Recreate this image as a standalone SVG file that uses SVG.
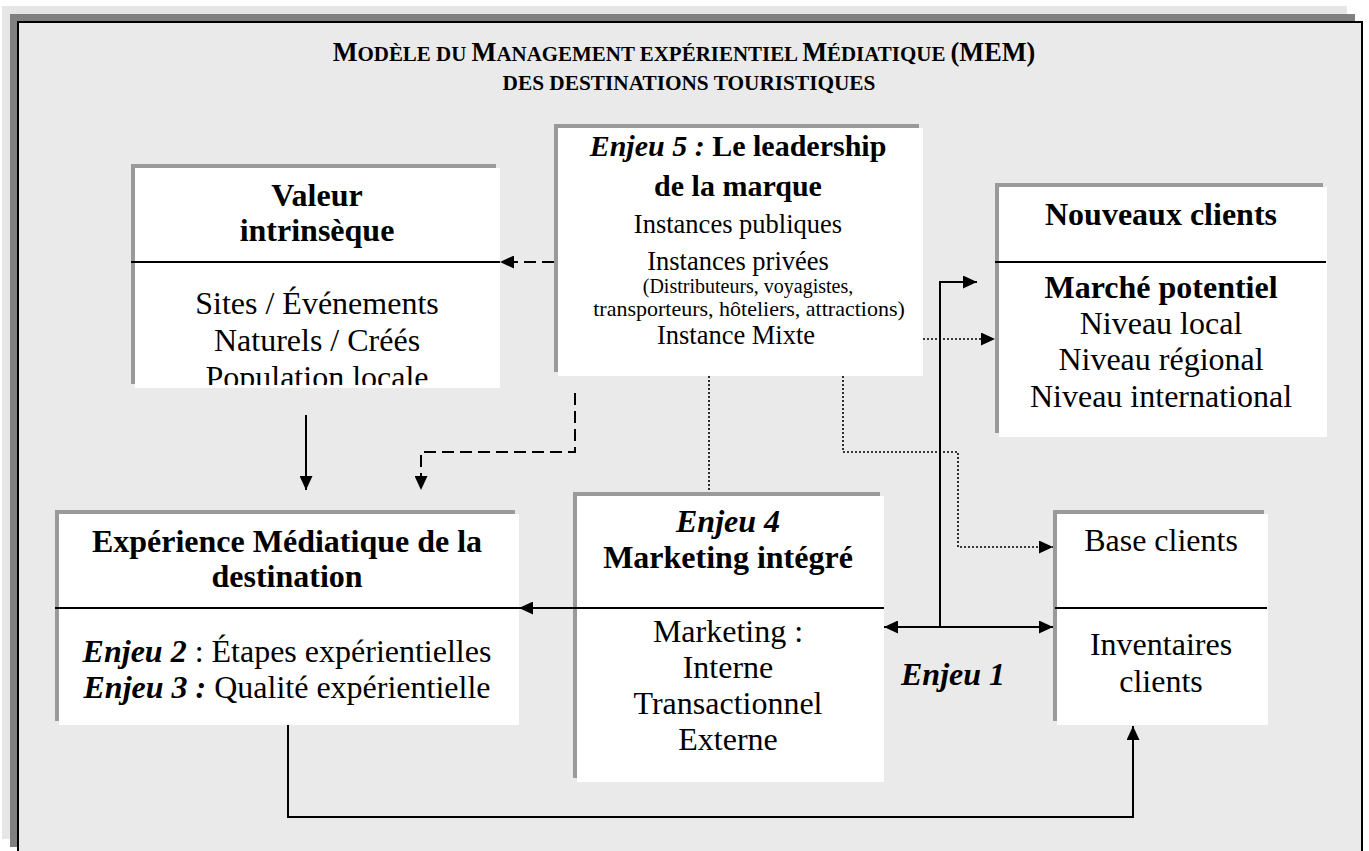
<svg xmlns="http://www.w3.org/2000/svg" width="1369" height="851" viewBox="0 0 1369 851">
<style>
  text { font-family: "Liberation Serif", "Times New Roman", serif; fill: #000; }
  .c { text-anchor: middle; }
  .b { font-weight: bold; }
  .bi { font-weight: bold; font-style: italic; }
  .t31 { font-size: 32px; }
  .t26 { font-size: 26.5px; }
  .shadow { fill: #9a9a9a; }
  .box { fill: #ffffff; }
  .div { stroke: #000; stroke-width: 2; }
  .conn { fill: none; stroke: #000; stroke-width: 2; }
  .dash { stroke-dasharray: 12 6; }
  .dot { stroke-width: 1.6; stroke-dasharray: 2 2; }
</style>
<defs>
  <marker id="ah" markerUnits="userSpaceOnUse" markerWidth="15" markerHeight="13" refX="14" refY="6.5" orient="auto">
    <path d="M0,0 L14,6.5 L0,13 z" fill="#000"/>
  </marker>
  <clipPath id="clipV"><rect x="135" y="168" width="365" height="217"/></clipPath>
</defs>

<g id="frame">
  <rect x="2" y="6" width="1345" height="833" fill="#e6e6e6"/>
  <rect x="10" y="14" width="1345" height="833" fill="#808080"/>
  <rect x="18" y="22" width="1344" height="845" fill="#eaeaea" stroke="#000" stroke-width="2"/>
</g>

<g id="title">
  <text transform="translate(684 61) scale(0.975 1)" x="0" y="0" class="c b" font-size="27">M<tspan font-size="21.5">ODÈLE DU </tspan>M<tspan font-size="21.5">ANAGEMENT EXPÉRIENTIEL </tspan>M<tspan font-size="21.5">ÉDIATIQUE </tspan>(MEM)</text>
  <text x="689" y="90" class="c b" font-size="21.3">DES DESTINATIONS TOURISTIQUES</text>
</g>

<g id="valeur">
  <rect class="shadow" x="131" y="164" width="365" height="220"/>
  <rect class="box" x="135" y="168" width="365" height="220"/>
  <line class="div" x1="131" y1="262" x2="500" y2="262"/>
  <text x="317" y="206" class="c b t31">Valeur</text>
  <text x="317" y="241" class="c b t31">intrinsèque</text>
  <g clip-path="url(#clipV)">
    <text x="317" y="314" class="c t31">Sites / Événements</text>
    <text x="317" y="351" class="c t31">Naturels / Créés</text>
    <text x="317" y="388" class="c t31">Population locale</text>
  </g>
</g>

<g id="enjeu5">
  <rect class="shadow" x="554" y="124" width="365" height="248"/>
  <rect class="box" x="558" y="128" width="365" height="248"/>
  <text x="738" y="156" class="c" font-size="30"><tspan class="bi">Enjeu 5 :</tspan><tspan class="b"> Le leadership</tspan></text>
  <text x="738" y="196" class="c b" font-size="30">de la marque</text>
  <text x="738" y="233" class="c t26">Instances publiques</text>
  <text x="738" y="270" class="c t26">Instances privées</text>
  <text x="748" y="293" class="c" font-size="20">(Distributeurs, voyagistes,</text>
  <text x="749" y="316" class="c" font-size="22">transporteurs, hôteliers, attractions)</text>
  <text x="736" y="344" class="c t26">Instance Mixte</text>
</g>

<g id="nouveaux">
  <rect class="shadow" x="995" y="183" width="328" height="250"/>
  <rect class="box" x="999" y="187" width="328" height="250"/>
  <line class="div" x1="995" y1="262" x2="1326" y2="262"/>
  <text x="1161" y="225" class="c b t31">Nouveaux clients</text>
  <text x="1161" y="298" class="c b t31">Marché potentiel</text>
  <text x="1161" y="334" class="c t31">Niveau local</text>
  <text x="1161" y="370" class="c t31">Niveau régional</text>
  <text x="1161" y="407" class="c t31">Niveau international</text>
</g>

<g id="experience">
  <rect class="shadow" x="55" y="510" width="460" height="211"/>
  <rect class="box" x="59" y="514" width="460" height="211"/>
  <line class="div" x1="55" y1="608" x2="519" y2="608"/>
  <text x="287" y="552" class="c b t31">Expérience Médiatique de la</text>
  <text x="287" y="587" class="c b t31">destination</text>
  <text x="287" y="662" class="c t31"><tspan class="bi">Enjeu 2</tspan> : Étapes expérientielles</text>
  <text x="287" y="698" class="c t31"><tspan class="bi">Enjeu 3 :</tspan> Qualité expérientielle</text>
</g>

<g id="enjeu4">
  <rect class="shadow" x="573" y="492" width="307" height="286"/>
  <rect class="box" x="577" y="496" width="307" height="286"/>
  <line class="div" x1="573" y1="608" x2="884" y2="608"/>
  <text x="728" y="532" class="c bi t31">Enjeu 4</text>
  <text x="728" y="568" class="c b t31">Marketing intégré</text>
  <text x="728" y="642" class="c t31">Marketing :</text>
  <text x="728" y="678" class="c t31">Interne</text>
  <text x="728" y="714" class="c t31">Transactionnel</text>
  <text x="728" y="750" class="c t31">Externe</text>
</g>

<g id="base">
  <rect class="shadow" x="1053" y="510" width="211" height="211"/>
  <rect class="box" x="1057" y="514" width="211" height="211"/>
  <line class="div" x1="1055" y1="608" x2="1267" y2="608"/>
  <text x="1161" y="551" class="c t31">Base clients</text>
  <text x="1161" y="655" class="c t31">Inventaires</text>
  <text x="1161" y="692" class="c t31">clients</text>
</g>

<g id="connectors">
  <path class="conn dash" d="M554 262 H500" marker-end="url(#ah)"/>
  <path class="conn dash" d="M575 393 V452 H421 V490" marker-end="url(#ah)"/>
  <path class="conn" d="M306 415 V490" marker-end="url(#ah)"/>
  <path class="conn dot" d="M923 339 H995" marker-end="url(#ah)"/>
  <path class="conn dot" d="M709 376 V492"/>
  <path class="conn dot" d="M843 376 V452 H958 V547 H1053" marker-end="url(#ah)"/>
  <path class="conn" d="M940 627 H1053" marker-end="url(#ah)"/>
  <path class="conn" d="M940 627 H884" marker-end="url(#ah)"/>
  <path class="conn" d="M940 627 V282 H977" marker-end="url(#ah)"/>
  <path class="conn" d="M288 725 V817 H1133 V726" marker-end="url(#ah)"/>
  <path class="conn" d="M573 608 H519" marker-end="url(#ah)"/>
  <text x="901" y="685" class="bi t31">Enjeu 1</text>
</g>
</svg>
